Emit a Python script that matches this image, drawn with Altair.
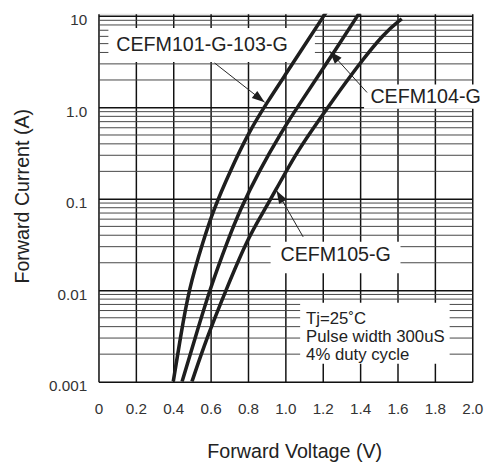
import altair as alt
import pandas as pd

# ---- curve data (Forward Voltage V, Forward Current A) ----
v_101 = [0.40, 0.438, 0.483, 0.562, 0.614, 0.704, 0.805, 0.90, 1.01, 1.23]
i_101 = [0.001, 0.0030, 0.0103, 0.0356, 0.0748, 0.201, 0.54, 1.12, 2.45, 12.0]

v_104 = [0.447, 0.517, 0.596, 0.693, 0.756, 0.859, 0.979, 1.079, 1.191, 1.41]
i_104 = [0.001, 0.0030, 0.0103, 0.0356, 0.0748, 0.201, 0.54, 1.12, 2.45, 12.0]

v_105 = [0.50, 0.579, 0.684, 0.795, 0.877, 0.947, 1.053, 1.147, 1.246, 1.386, 1.526, 1.623]
i_105 = [0.001, 0.0030, 0.0103, 0.0356, 0.069, 0.123, 0.305, 0.585, 1.14, 2.83, 6.46, 9.35]

# ---- axis ticks ----
x_ticks = [0, 0.2, 0.4, 0.6, 0.8, 1.0, 1.2, 1.4, 1.6, 1.8, 2.0]
y_major = [0.001, 0.01, 0.1, 1, 10]
y_minor = [m * d for d in [0.001, 0.01, 0.1, 1] for m in range(2, 10)]

# ---- annotation labels ----
lab_text = ["CEFM101-G-103-G", "CEFM104-G", "CEFM105-G"]
lab_v = [0.095, 1.455, 0.974]
lab_i = [4.8, 1.29, 0.0245]

box_v1 = [0.053, 1.421, 0.921, 1.079]
box_v2 = [1.158, 2.05, 1.616, 1.879]
box_i1 = [7.4, 1.78, 0.0339, 0.0073]
box_i2 = [3.15, 0.97, 0.01534, 0.00157]

arr_v1 = [0.621, 1.437, 1.095]
arr_i1 = [3.07, 1.46, 0.0384]
arr_v2 = [0.889, 1.237, 0.953]
arr_i2 = [1.14, 4.13, 0.123]
arr_angle = [128, 318, 330]

note_text = ["Tj=25\u02daC", "Pulse width 300uS", "4% duty cycle"]
note_v = [1.111, 1.111, 1.111]
note_i = [0.0048, 0.00307, 0.00197]

curves = pd.concat([
    pd.DataFrame({"V": v_101, "I": i_101, "s": "CEFM101-G-103-G"}),
    pd.DataFrame({"V": v_104, "I": i_104, "s": "CEFM104-G"}),
    pd.DataFrame({"V": v_105, "I": i_105, "s": "CEFM105-G"}),
])
minor_df = pd.DataFrame({"m": y_minor})
labels_df = pd.DataFrame({"t": lab_text, "V": lab_v, "I": lab_i})
boxes_df = pd.DataFrame({"a": box_v1, "b": box_v2, "c": box_i1, "d": box_i2})
arrows_df = pd.DataFrame({"a": arr_v1, "b": arr_v2, "c": arr_i1, "d": arr_i2, "ang": arr_angle})
notes_df = pd.DataFrame({"t": note_text, "V": note_v, "I": note_i})

TICK_FONT = "Liberation Sans Narrow, Arial Narrow, Liberation Sans"
FONT = "Liberation Sans, Arial, Helvetica"

xscale = alt.Scale(domain=[0, 2.0], nice=False, zero=False)
yscale = alt.Scale(type="log", domain=[0.001, 10.6], nice=False)

xaxis = alt.Axis(
    values=x_ticks, title="Forward Voltage (V)", grid=True, gridColor="#111", gridWidth=1.5,
    ticks=False, tickSize=0, domain=False, labelPadding=20, labelFont=TICK_FONT, labelFontSize=15.5,
    labelColor="#333", labelExpr="datum.value == 0 ? '0' : format(datum.value, '.1f')",
    titleFont=FONT, titleFontSize=20, titleFontWeight="normal", titleColor="#222",
    titleX=199, titleY=71, titleBaseline="middle", labelFlush=False, labelOverlap=False,
)
yaxis = alt.Axis(
    values=y_major, title="Forward Current (A)", grid=True, gridColor="#111", gridWidth=1.5,
    ticks=False, tickSize=0, domain=False, labelPadding=12, labelFont=TICK_FONT, labelFontSize=15.5,
    labelColor="#333", labelOffset=4, labelFlush=False, labelOverlap=False,
    labelExpr="datum.value >= 10 ? '10' : datum.value >= 1 ? '1.0' : datum.value >= 0.1 ? '0.1' : datum.value >= 0.01 ? '0.01' : '0.001'",
    titleFont=FONT, titleFontSize=20, titleFontWeight="normal", titleColor="#222",
    titleX=-77, titleY=185, titleAngle=270, titleBaseline="middle", titleAlign="center",
)


def X(f):
    return alt.X(f, type="quantitative", scale=xscale, axis=xaxis)


def Y(f):
    return alt.Y(f, type="quantitative", scale=yscale, axis=yaxis)


minor = alt.Chart(minor_df).mark_rule(color="#444", strokeWidth=1).encode(y=Y("m"))

boxes = alt.Chart(boxes_df).mark_rect(color="white", clip=False).encode(
    x=X("a"), x2="b", y=Y("c"), y2="d"
)

lines = alt.Chart(curves).mark_line(color="#1e1e1e", strokeWidth=3.6, clip=True, interpolate="basis").encode(
    x=X("V"), y=Y("I"), detail="s"
)

arrows = alt.Chart(arrows_df).mark_rule(color="#222", strokeWidth=1).encode(
    x=X("a"), x2="b", y=Y("c"), y2="d"
)

heads = alt.Chart(arrows_df).mark_point(
    shape="M0,0L-0.35,1L0.35,1Z", filled=True, color="#1e1e1e", size=676, opacity=1
).encode(x=X("b"), y=Y("d"), angle=alt.Angle("ang", type="quantitative", scale=None))

labels = alt.Chart(labels_df).mark_text(
    align="left", baseline="middle", font=FONT, fontSize=20, color="#222"
).encode(x=X("V"), y=Y("I"), text="t")

notes = alt.Chart(notes_df).mark_text(
    align="left", baseline="middle", font=FONT, fontSize=17, color="#222"
).encode(x=X("V"), y=Y("I"), text="t")

chart = alt.layer(minor, boxes, lines, arrows, heads, labels, notes).properties(
    width=380, height=374,
    autosize=alt.AutoSizeParams(type="none"),
    padding={"left": 92, "top": 2, "right": 16, "bottom": 90},
).configure_view(stroke="#111", strokeWidth=3).configure(background="white")

chart.save("out.html", embed_options={"renderer": "svg", "actions": False})
